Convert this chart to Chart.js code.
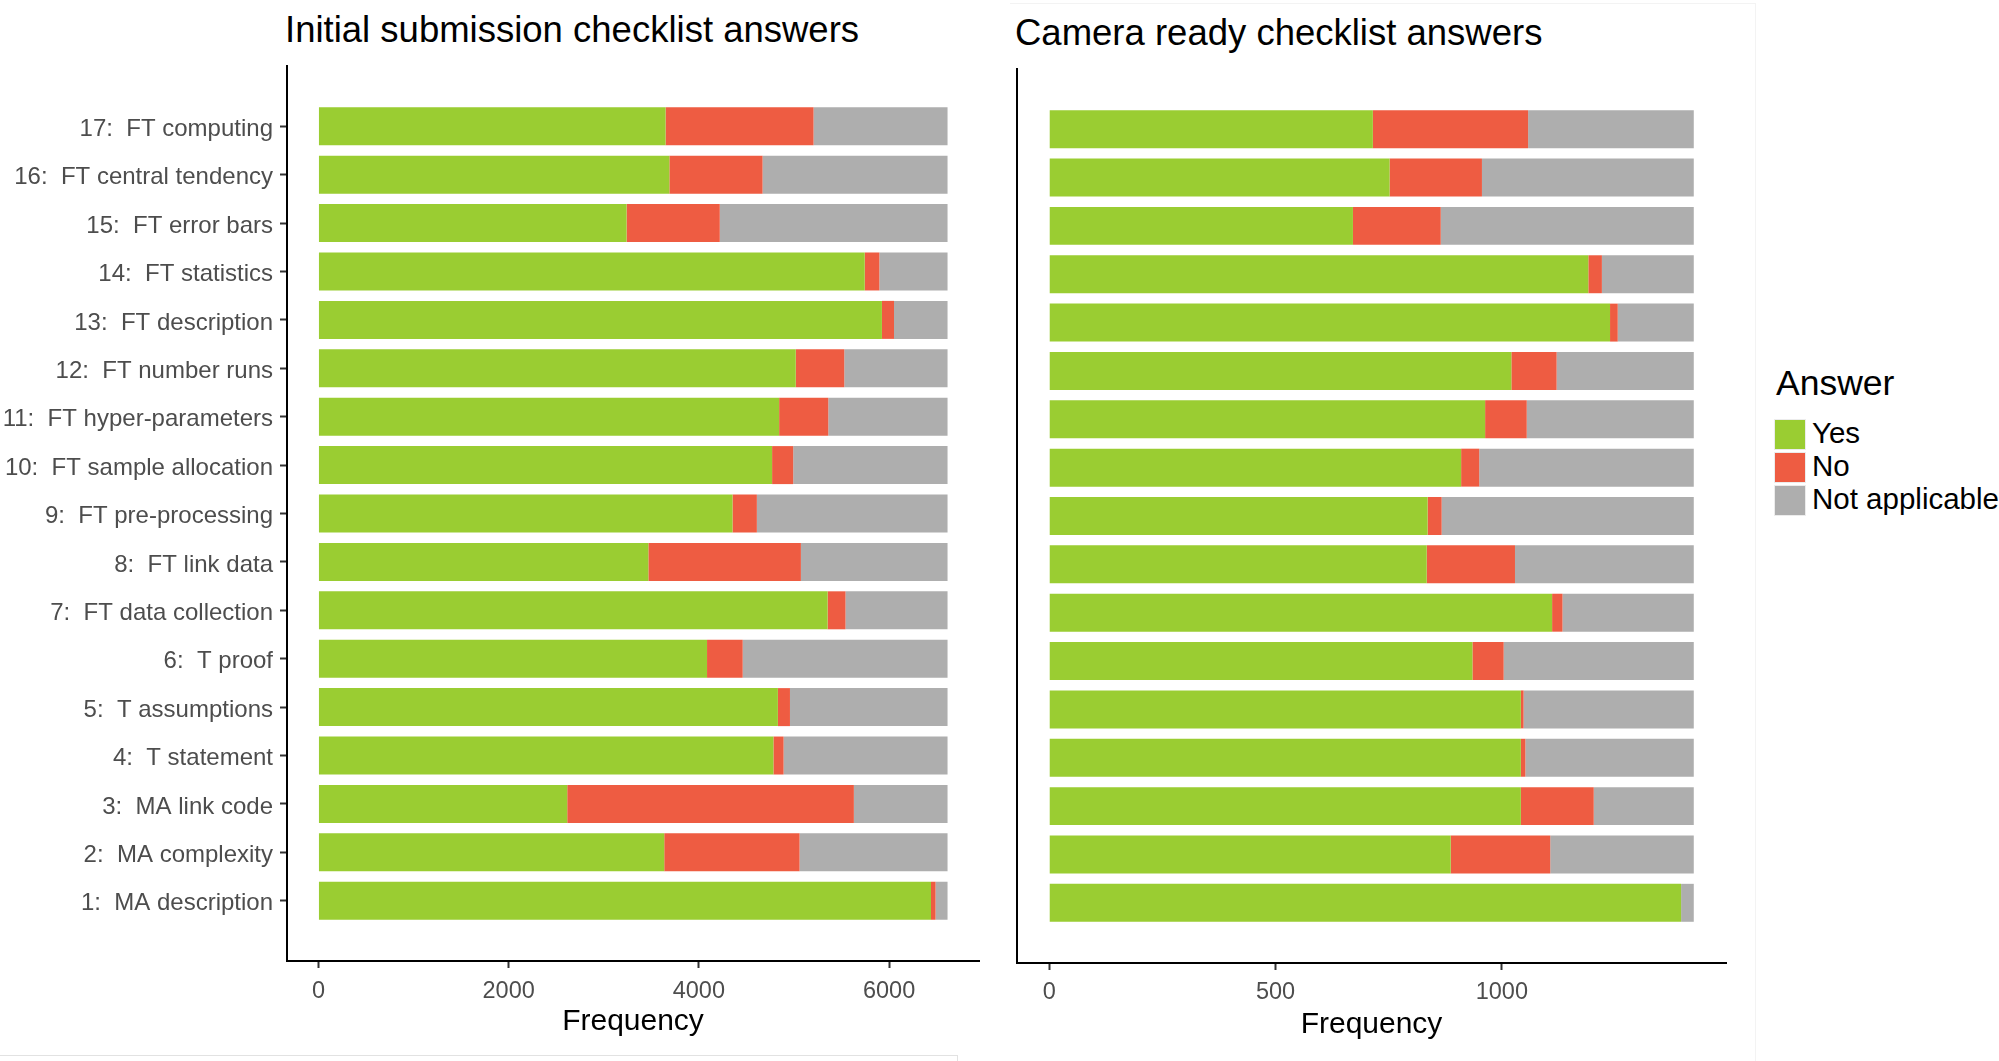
<!DOCTYPE html>
<html>
<head>
<meta charset="utf-8">
<title>Checklist answers</title>
<script src="https://cdn.jsdelivr.net/npm/chart.js@4.4.1/dist/chart.umd.min.js"></script>
<style>
  html, body { margin: 0; padding: 0; background: #fff; }
  body {
    width: 1999px;
    height: 1061px;
    position: relative;
    overflow: hidden;
    font-family: "Liberation Sans", Arial, sans-serif;
  }
  canvas { position: absolute; top: 0; }
  #chart-initial { left: 0; }
  #chart-camera { left: 1000px; }
  .panel-title {
    position: absolute;
    font-size: 36.5px;
    line-height: 36.5px;
    color: #000;
    white-space: nowrap;
  }
  #legend { position: absolute; left: 1774px; top: 366px; }
  #legend .legend-title { font-size: 35.5px; line-height: 35.5px; margin-left: 2px; }
  #legend .legend-row { position: absolute; left: 0; white-space: nowrap; }
  #legend .swatch {
    position: absolute;
    left: 0;
    width: 32px;
    height: 31px;
    box-shadow: 0 0 0 1px #ececec inset;
  }
  #legend .legend-label {
    position: absolute;
    left: 38px;
    font-size: 29.5px;
    line-height: 29.5px;
    color: #000;
  }
  .frame { position: absolute; box-sizing: border-box; }
</style>
</head>
<body>
<div class="frame" style="left:0; top:1055px; width:958px; height:20px; border-top:1px solid #e2e2e2; border-right:1px solid #e2e2e2;"></div>
<div class="frame" style="left:1010px; top:3px; width:746px; height:1070px; border-top:1px solid #f3f3f3; border-right:1px solid #f3f3f3;"></div>

<div class="panel-title" style="left:285px; top:12px;">Initial submission checklist answers</div>
<div class="panel-title" style="left:1015px; top:15px;">Camera ready checklist answers</div>

<canvas id="chart-initial" width="1000" height="1061"></canvas>
<canvas id="chart-camera" width="760" height="1061"></canvas>

<div id="legend"></div>

<script>
const questions = [
  "1:  MA description",
  "2:  MA complexity",
  "3:  MA link code",
  "4:  T statement",
  "5:  T assumptions",
  "6:  T proof",
  "7:  FT data collection",
  "8:  FT link data",
  "9:  FT pre-processing",
  "10:  FT sample allocation",
  "11:  FT hyper-parameters",
  "12:  FT number runs",
  "13:  FT description",
  "14:  FT statistics",
  "15:  FT error bars",
  "16:  FT central tendency",
  "17:  FT computing",
];

const answers = ["Yes", "No", "Not applicable"];
const answerColors = ["#9ACD32", "#EE5C42", "#AEAEAE"];

// initial submission, question 1 .. 17
const initialYes = [6441, 3636, 2616, 4784, 4831, 4086, 5354, 3469, 4354, 4770, 4844, 5019, 5925, 5744, 3240, 3690, 3650];
const initialNo = [48, 1423, 3014, 107, 127, 375, 188, 1604, 256, 222, 517, 510, 127, 154, 980, 980, 1556];
const initialNA = [126, 1556, 985, 1724, 1657, 2154, 1073, 1542, 2005, 1623, 1254, 1086, 563, 717, 2395, 1945, 1409];

// camera ready, question 1 .. 17
const cameraYes = [1396, 887, 1042, 1042, 1042, 935, 1111, 834, 836, 910, 963, 1021, 1239, 1191, 671, 752, 715];
const cameraNo = [0, 220, 161, 10, 6, 69, 23, 195, 31, 40, 92, 100, 17, 30, 194, 204, 343];
const cameraNA = [28, 317, 221, 372, 376, 420, 290, 395, 557, 474, 369, 303, 168, 203, 559, 468, 366];

const initialTicks = [0, 2000, 4000, 6000];
const cameraTicks = [0, 500, 1000];

Chart.defaults.font.family = "'Liberation Sans', Arial, sans-serif";

function buildDatasets(series) {
  return series.map((values, k) => ({
    label: answers[k],
    data: values.map((v, i) => ({ x: v, y: i + 1 })),
    backgroundColor: answerColors[k],
    borderWidth: 0,
    barPercentage: 0.785,
    categoryPercentage: 1,
  }));
}

function renderPanel(canvasId, series, xTicks, layout) {
  const totals = series[0].map((_, i) => series.reduce((s, arr) => s + arr[i], 0));
  const total = Math.max(...totals);
  const pad = 1.245;

  return new Chart(document.getElementById(canvasId), {
    type: "bar",
    data: { datasets: buildDatasets(series) },
    options: {
      indexAxis: "y",
      responsive: false,
      animation: false,
      devicePixelRatio: 1,
      layout: { padding: layout.padding },
      plugins: {
        legend: { display: false },
        tooltip: { enabled: false },
      },
      scales: {
        x: {
          type: "linear",
          stacked: true,
          bounds: "data",
          offset: false,
          min: -0.05 * total,
          max: 1.05 * total,
          afterBuildTicks: (scale) => {
            scale.ticks = xTicks.map((v) => ({ value: v }));
          },
          afterFit: (scale) => {
            scale.height = layout.xHeight;
          },
          ticks: {
            color: "#4d4d4d",
            font: { size: 23.5 },
            padding: layout.tickPad,
            maxRotation: 0,
            callback: (v) => String(v),
          },
          grid: {
            display: true,
            offset: false,
            drawOnChartArea: false,
            drawTicks: true,
            tickLength: 7,
            tickColor: "#333333",
            tickWidth: 2,
          },
          border: { display: true, color: "#000", width: 2 },
          title: {
            display: true,
            text: "Frequency",
            color: "#000",
            font: { size: 30 },
            padding: { top: 0, bottom: layout.titlePad },
          },
        },
        y: {
          type: "linear",
          stacked: true,
          bounds: "data",
          offset: false,
          min: 1 - pad,
          max: questions.length + pad,
          afterBuildTicks: (scale) => {
            scale.ticks = questions.map((_, i) => ({ value: i + 1 }));
          },
          afterFit: (scale) => {
            scale.width = layout.yWidth;
          },
          ticks: {
            display: layout.showLabels,
            color: "#4d4d4d",
            font: { size: 24 },
            padding: 7,
            labelOffset: 3,
            callback: (v) => questions[v - 1] || "",
          },
          grid: {
            display: layout.showLabels,
            offset: false,
            drawOnChartArea: false,
            drawTicks: true,
            tickLength: 7,
            tickColor: "#333333",
            tickWidth: 2,
          },
          border: { display: true, color: "#000", width: 2 },
        },
      },
    },
  });
}

renderPanel("chart-initial", [initialYes, initialNo, initialNA], initialTicks, {
  padding: { top: 66, right: 21, bottom: 0, left: 0 },
  yWidth: 287,
  xHeight: 100,
  tickPad: 9,
  titlePad: 20.9,
  showLabels: true,
});

renderPanel("chart-camera", [cameraYes, cameraNo, cameraNA], cameraTicks, {
  padding: { top: 69, right: 34, bottom: 0, left: 0 },
  yWidth: 17,
  xHeight: 98,
  tickPad: 8.5,
  titlePad: 18.2,
  showLabels: false,
});

function renderLegend() {
  const el = document.getElementById("legend");
  const title = document.createElement("div");
  title.className = "legend-title";
  title.textContent = "Answer";
  el.appendChild(title);

  answers.forEach((name, k) => {
    const row = document.createElement("div");
    row.className = "legend-row";
    row.style.top = `${53 + k * 33}px`;
    row.innerHTML = `<div class="swatch" style="background:${answerColors[k]}"></div>` +
      `<div class="legend-label" style="top:-1px">${name}</div>`;
    el.appendChild(row);
  });
}

renderLegend();
</script>
</body>
</html>
